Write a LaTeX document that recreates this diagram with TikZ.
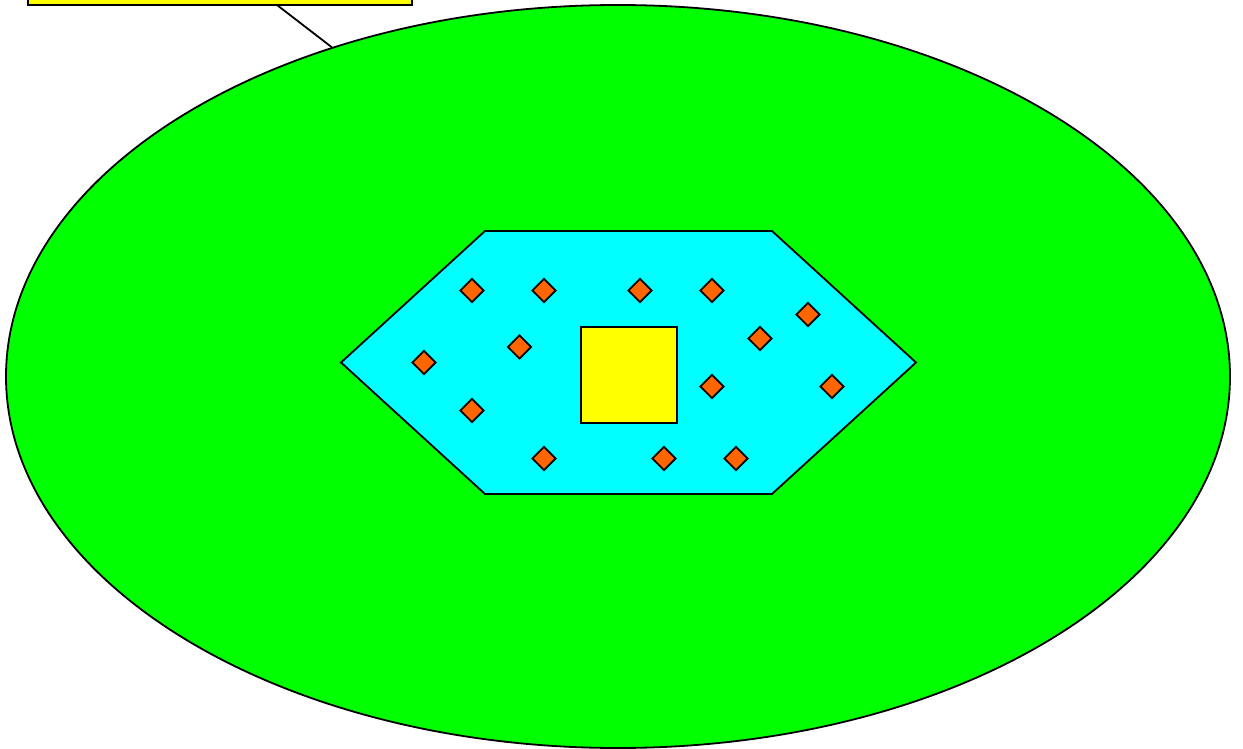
\documentclass[tikz,border=0pt]{standalone}
\usepackage{tikz}
\usetikzlibrary{shapes.geometric, positioning}
\usepackage{xcolor}

\definecolor{fieldgreen}{HTML}{00FF00}
\definecolor{poolcyan}{HTML}{00FFFF}
\definecolor{noteyellow}{HTML}{FFFF00}
\definecolor{seedorange}{HTML}{FF6600}

\tikzstyle{field}   = [draw, line width=0.9pt, ellipse, fill=fieldgreen, inner sep=0pt, minimum width=612pt, minimum height=371.5pt]
\tikzstyle{pool}    = [draw, line width=0.9pt, fill=poolcyan, line join=miter]
\tikzstyle{core}    = [draw, line width=1pt, rectangle, fill=noteyellow, inner sep=0pt, minimum size=48pt]
\tikzstyle{seed}    = [draw, line width=0.9pt, diamond, fill=seedorange, inner sep=0pt, minimum size=12pt]
\tikzstyle{note}    = [draw, line width=1pt, rectangle, fill=noteyellow, inner sep=0pt, minimum width=192pt, minimum height=20pt]
\tikzstyle{leader}  = [line width=0.9pt]

\begin{document}
\begin{tikzpicture}[x=0.5pt, y=-0.5pt]

\useasboundingbox (0,0) rectangle (1243,749);
\clip (0,0) rectangle (1243,749);

\node[field] (F)  at (618,376.5) {};

\draw[pool] (485,231) -- (772,231) -- (916,362.5) -- (772,494) -- (485,494) -- (341,362.5) -- cycle;

\node[core] (C)   at (628.5,374.5) {};

\node[seed] (S1)  at (472,290.5) {};
\node[seed] (S2)  at (544,290.5) {};
\node[seed] (S3)  at (640,290.5) {};
\node[seed] (S4)  at (712,290.5) {};
\node[seed] (S5)  at (808,314.5) {};
\node[seed] (S6)  at (760,338.5) {};
\node[seed] (S7)  at (519.5,347) {};
\node[seed] (S8)  at (424,362.5) {};
\node[seed] (S9)  at (712,386.5) {};
\node[seed] (S10) at (832,386.5) {};
\node[seed] (S11) at (472,410.5) {};
\node[seed] (S12) at (544,458.5) {};
\node[seed] (S13) at (664,458.5) {};
\node[seed] (S14) at (736,458.5) {};

\node[note] (N)   at (220,-15) {};
\coordinate (Nfoot) at (277,5);

\draw[leader] (Nfoot) -- (F.131);

\end{tikzpicture}
\end{document}
